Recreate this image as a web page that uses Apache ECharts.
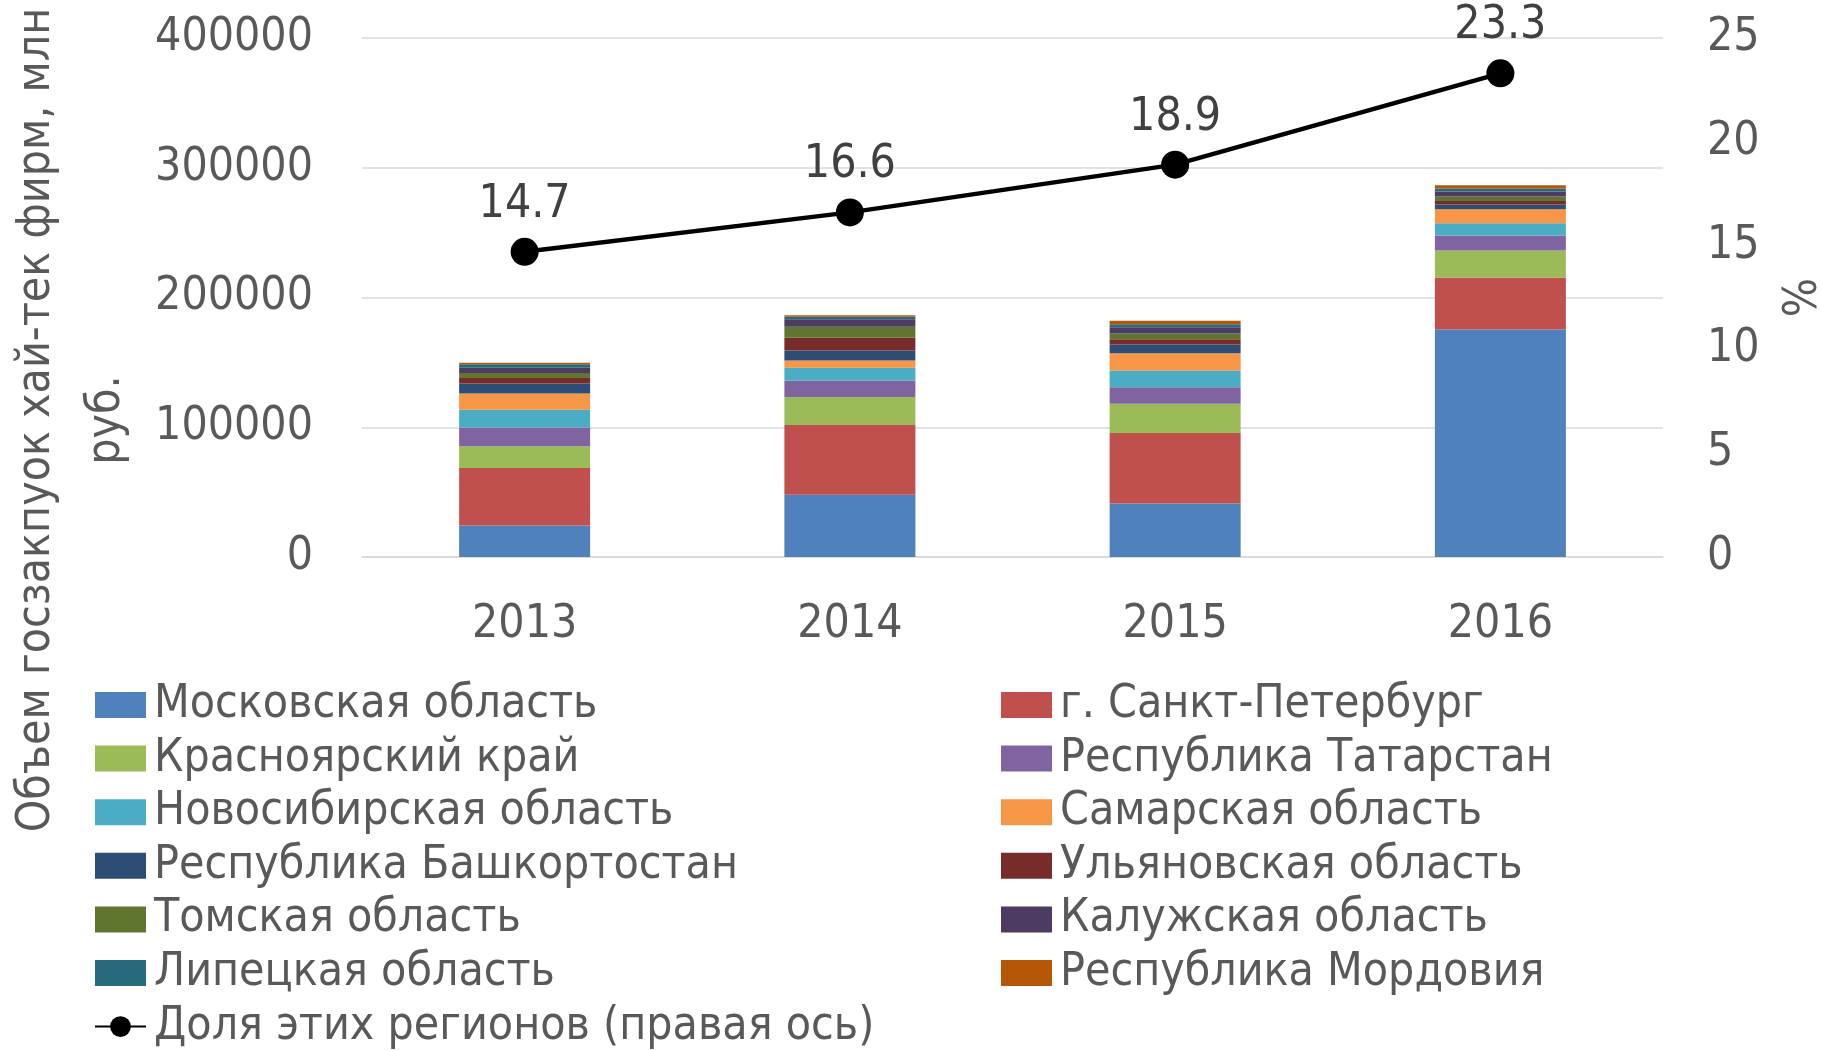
<!DOCTYPE html>
<html>
<head>
<meta http-equiv="Content-Type" content="text/html; charset=utf-8" />
<style type="text/css">
html, body {margin: 0; padding: 0; background-color: #fff}
</style>
</head>
<body>
<div id="main" style="width:1821px;height:1051px;"></div>

<script src="https://cdn.jsdelivr.net/npm/echarts@6/dist/echarts.min.js"></script>
<script type="text/javascript">

var years = ['2013', '2014', '2015', '2016'];

// stacked bars, bottom to top
var moscowObl   = [24300, 47900, 41300, 175400];
var spb         = [44300, 53900, 54300, 40000];
var krasnoyarsk = [16800, 21600, 22600, 20900];
var tatarstan   = [14400, 12400, 12700, 11400];
var novosibirsk = [13700, 10000, 12800, 9500];
var samara      = [12600, 5600, 13400, 10800];
var bashkir     = [7700, 7700, 6600, 3600];
var ulyanovsk   = [4200, 10000, 4200, 2800];
var tomsk       = [3900, 8300, 4300, 3400];
var kaluga      = [3900, 5900, 4900, 3900];
var lipetsk     = [2800, 1800, 2300, 2300];
var mordovia    = [1100, 1300, 2600, 2600];

// share of these regions, right axis
var share = [14.7, 16.6, 18.9, 23.3];

var leftTicks = [0, 400000, 100000];
var rightTicks = [0, 25, 5];

var regions = [
    ['Московская область', moscowObl, '#4F81BD'],
    ['г. Санкт-Петербург', spb, '#C0504D'],
    ['Красноярский край', krasnoyarsk, '#9BBB59'],
    ['Республика Татарстан', tatarstan, '#8064A2'],
    ['Новосибирская область', novosibirsk, '#4BACC6'],
    ['Самарская область', samara, '#F79646'],
    ['Республика Башкортостан', bashkir, '#2C4D75'],
    ['Ульяновская область', ulyanovsk, '#772C2A'],
    ['Томская область', tomsk, '#5F7530'],
    ['Калужская область', kaluga, '#4D3B62'],
    ['Липецкая область', lipetsk, '#276A7C'],
    ['Республика Мордовия', mordovia, '#B65708']
];
var shareName = 'Доля этих регионов (правая ось)';

var FONT = "'DejaVu Sans Condensed', 'DejaVu Sans', sans-serif";
var FS = 46;
var GREY = '#595959';

var myChart = echarts.init(document.getElementById('main'));

var series = regions.map(function (r) {
    return {
        name: r[0],
        type: 'bar',
        stack: 'total',
        barWidth: 131,
        data: r[1],
        itemStyle: { color: r[2] },
        emphasis: { disabled: true }
    };
});
series.push({
    name: shareName,
    type: 'line',
    yAxisIndex: 1,
    data: share,
    symbol: 'circle',
    symbolSize: 28,
    lineStyle: { color: '#000', width: 4.5 },
    itemStyle: { color: '#000' },
    label: {
        show: true,
        position: 'top',
        distance: 10,
        fontSize: FS,
        color: '#404040',
        fontFamily: FONT,
        formatter: function (p) { return p.value.toFixed(1); }
    },
    z: 10
});

function legendItem(name) { return { name: name, icon: 'rect' }; }
var col1 = [0, 2, 4, 6, 8, 10].map(function (i) { return legendItem(regions[i][0]); });
col1.push({ name: shareName });
var col2 = [1, 3, 5, 7, 9, 11].map(function (i) { return legendItem(regions[i][0]); });

var legendBase = {
    orient: 'vertical',
    top: 682,
    padding: 0,
    itemWidth: 51,
    itemHeight: 26,
    itemGap: 7.6,
    selectedMode: false,
    textStyle: { fontSize: FS, color: GREY, fontFamily: FONT, lineHeight: 46, padding: [0, 0, 0, 3] }
};

option = {
    animation: false,
    textStyle: { fontFamily: FONT },
    grid: { left: 362, right: 158, top: 38, bottom: 494, outerBoundsMode: 'none' },
    legend: [
        Object.assign({}, legendBase, { left: 94, data: col1 }),
        Object.assign({}, legendBase, { left: 1001, data: col2 })
    ],
    xAxis: {
        type: 'category',
        data: years,
        axisLine: { lineStyle: { color: '#d9d9d9', width: 1.5 } },
        axisTick: { show: false },
        axisLabel: { fontSize: FS, color: GREY, margin: 45 }
    },
    yAxis: [{
        type: 'value',
        min: leftTicks[0],
        max: leftTicks[1],
        interval: leftTicks[2],
        axisLine: { show: false },
        axisTick: { show: false },
        splitLine: { lineStyle: { color: '#d9d9d9', width: 1.5 } },
        axisLabel: { fontSize: FS, color: GREY, margin: 49, formatter: function (v) { return String(v); } }
    }, {
        type: 'value',
        min: rightTicks[0],
        max: rightTicks[1],
        interval: rightTicks[2],
        name: '%',
        nameLocation: 'middle',
        nameGap: 118,
        nameRotate: 90,
        nameTextStyle: { fontSize: FS, color: GREY },
        axisLine: { show: false },
        axisTick: { show: false },
        splitLine: { show: false },
        axisLabel: { fontSize: FS, color: GREY, margin: 44 }
    }],
    graphic: [{
        type: 'text',
        x: 72,
        y: 420,
        rotation: Math.PI / 2,
        style: {
            text: 'Объем госзакпуок хай-тек фирм, млн\nруб.',
            fontSize: FS,
            fontFamily: FONT,
            fill: GREY,
            align: 'center',
            verticalAlign: 'middle',
            lineHeight: 70
        }
    }],
    series: series
};

myChart.setOption(option);
</script>
</body>
</html>
